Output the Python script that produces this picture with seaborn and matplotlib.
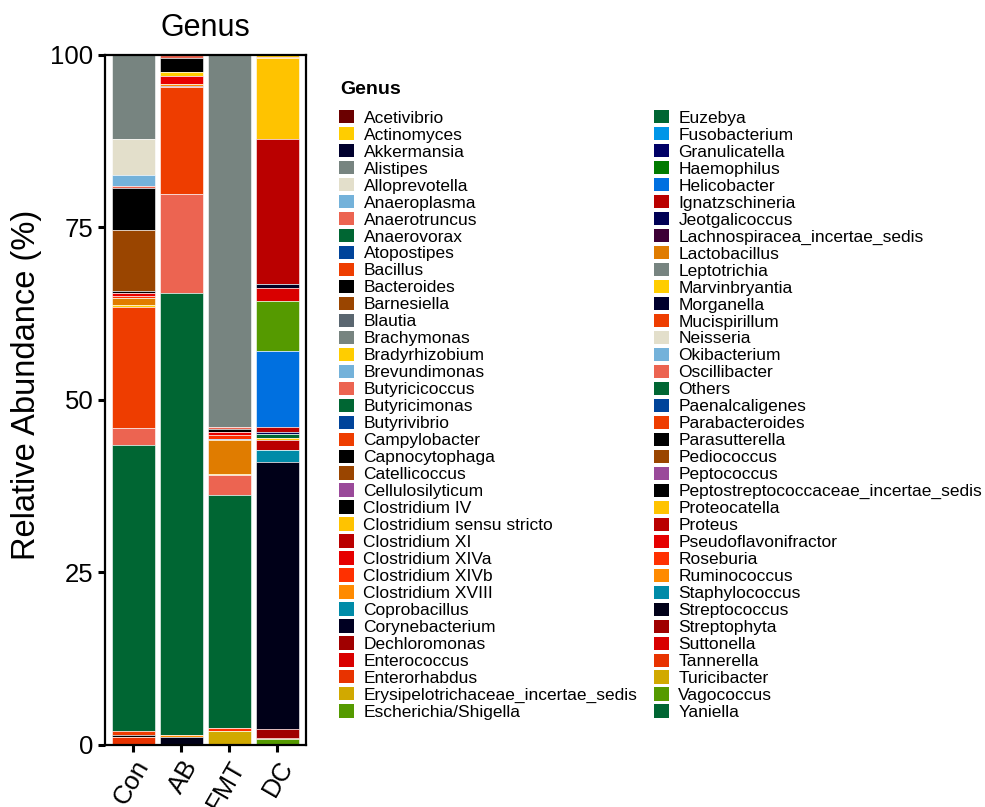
import matplotlib
matplotlib.use("Agg")
import matplotlib.pyplot as plt
from matplotlib.patches import Patch
import numpy as np
import pandas as pd
import seaborn as sns

# Samples on the x axis
samples = ["Con", "AB", "FMT", "DC"]

# Genus levels (legend order; the first level sits at the top of each stack)
genera = [
    "Acetivibrio", "Actinomyces", "Akkermansia", "Alistipes", "Alloprevotella",
    "Anaeroplasma", "Anaerotruncus", "Anaerovorax", "Atopostipes", "Bacillus",
    "Bacteroides", "Barnesiella", "Blautia", "Brachymonas", "Bradyrhizobium",
    "Brevundimonas", "Butyricicoccus", "Butyricimonas", "Butyrivibrio",
    "Campylobacter", "Capnocytophaga", "Catellicoccus", "Cellulosilyticum",
    "Clostridium IV", "Clostridium sensu stricto", "Clostridium XI",
    "Clostridium XIVa", "Clostridium XIVb", "Clostridium XVIII", "Coprobacillus",
    "Corynebacterium", "Dechloromonas", "Enterococcus", "Enterorhabdus",
    "Erysipelotrichaceae_incertae_sedis", "Escherichia/Shigella",
    "Euzebya", "Fusobacterium", "Granulicatella", "Haemophilus", "Helicobacter",
    "Ignatzschineria", "Jeotgalicoccus", "Lachnospiracea_incertae_sedis",
    "Lactobacillus", "Leptotrichia", "Marvinbryantia", "Morganella",
    "Mucispirillum", "Neisseria", "Okibacterium", "Oscillibacter", "Others",
    "Paenalcaligenes", "Parabacteroides", "Parasutterella", "Pediococcus",
    "Peptococcus", "Peptostreptococcaceae_incertae_sedis", "Proteocatella",
    "Proteus", "Pseudoflavonifractor", "Roseburia", "Ruminococcus",
    "Staphylococcus", "Streptococcus", "Streptophyta", "Suttonella",
    "Tannerella", "Turicibacter", "Vagococcus", "Yaniella",
]

genus_colors = [
    "#6B0000", "#FFCD00", "#00002E", "#778480", "#E3DFCB",
    "#74B2DA", "#EC6451", "#006633", "#00449A", "#EE3D00",
    "#000000", "#9A4500", "#5A6670", "#778480", "#FFCD00",
    "#74B2DA", "#EC6451", "#006633", "#00449A",
    "#EE3D00", "#000000", "#9A4500", "#9A4A9A",
    "#000000", "#FFC300", "#BA0000",
    "#E60000", "#FF3000", "#FF8A00", "#008BA8",
    "#000022", "#A00000", "#D90000", "#E83300",
    "#D1A900", "#559A00",
    "#006633", "#0096E8", "#000066", "#007A00", "#0070E0",
    "#BA0000", "#000055", "#3D0035",
    "#E07C00", "#778480", "#FFCD00", "#00002E",
    "#EE3D00", "#E3DFCB", "#74B2DA", "#EC6451", "#006633",
    "#00449A", "#EE3D00", "#000000", "#9A4500",
    "#9A4A9A", "#000000", "#FFC300",
    "#BA0000", "#E60000", "#FF3000", "#FF8A00",
    "#008BA8", "#000018", "#A00000", "#D90000",
    "#E83300", "#D1A900", "#559A00", "#006633",
]

# Relative abundance (%) per sample; genera not listed are 0
con = {
    "Alistipes": 12.2, "Alloprevotella": 5.2, "Anaeroplasma": 1.6,
    "Anaerotruncus": 0.3, "Bacteroides": 6.1, "Barnesiella": 8.8,
    "Clostridium IV": 0.35, "Clostridium XIVa": 0.4, "Clostridium XIVb": 0.3,
    "Lactobacillus": 1.05, "Marvinbryantia": 0.2, "Mucispirillum": 17.6,
    "Oscillibacter": 2.5, "Others": 41.4, "Parabacteroides": 0.55,
    "Parasutterella": 0.25, "Tannerella": 1.2,
}
ab = {
    "Anaerotruncus": 0.55, "Bacteroides": 2.05, "Bradyrhizobium": 0.45,
    "Clostridium XIVa": 1.2, "Clostridium XVIII": 0.3,
    "Lachnospiracea_incertae_sedis": 0.2, "Mucispirillum": 15.5,
    "Oscillibacter": 14.25, "Others": 64.0, "Ruminococcus": 0.35,
    "Streptococcus": 1.15,
}
fmt = {
    "Alistipes": 53.9, "Anaerotruncus": 0.4, "Bacteroides": 0.4,
    "Clostridium XIVa": 0.45, "Clostridium XIVb": 0.55, "Helicobacter": 0.15,
    "Lactobacillus": 4.9, "Marvinbryantia": 0.2, "Oscillibacter": 2.8,
    "Others": 33.8, "Roseburia": 0.4, "Turicibacter": 2.05,
}
dc = {
    "Actinomyces": 0.35, "Campylobacter": 0.2, "Clostridium sensu stricto": 11.65,
    "Clostridium XI": 21.1, "Corynebacterium": 0.45, "Enterococcus": 1.95,
    "Escherichia/Shigella": 7.2, "Helicobacter": 11.1, "Ignatzschineria": 0.7,
    "Jeotgalicoccus": 0.2, "Others": 0.6, "Proteocatella": 0.3, "Proteus": 1.45,
    "Staphylococcus": 1.7, "Streptococcus": 38.7, "Streptophyta": 1.35,
    "Suttonella": 0.15, "Vagococcus": 0.85,
}

sns.set_theme(style="ticks")
plt.rcParams["font.family"] = ["Liberation Sans", "DejaVu Sans"]
plt.rcParams["text.color"] = "black"
plt.rcParams["axes.labelcolor"] = "black"
plt.rcParams["xtick.color"] = "black"
plt.rcParams["ytick.color"] = "black"
plt.rcParams["axes.edgecolor"] = "black"

# Long table -> wide table, then the baseline of each genus is the sum of
# every genus listed after it
records = []
for sample, values in zip(samples, [con, ab, fmt, dc]):
    for g in genera:
        records.append((sample, g, values.get(g, 0.0)))
long_df = pd.DataFrame(records, columns=["Sample", "Genus", "Abundance"])
wide = long_df.pivot(index="Sample", columns="Genus", values="Abundance")
wide = wide.loc[samples, genera]
below = wide[genera[::-1]].cumsum(axis=1)[genera] - wide

palette = dict(zip(genera, genus_colors))

fig = plt.figure(figsize=(9.85, 8.07), dpi=100)
ax = fig.add_axes([104.5 / 985, 1 - 745 / 807, (306 - 104.5) / 985, (745 - 54.5) / 807])

for g in genera:
    heights = wide[g].to_numpy()
    if heights.sum() <= 0:
        continue
    sns.barplot(
        x=samples, y=heights, order=samples, ax=ax,
        color=palette[g], saturation=1, errorbar=None, width=0.9,
        bottom=below[g].to_numpy(), edgecolor="white", linewidth=0.4,
    )

ax.set_xlim(-0.6, 3.6)
ax.set_ylim(0, 100)
ax.set_yticks([0, 25, 50, 75, 100])
ax.set_yticklabels(["0", "25", "50", "75", "100"])
for side in ["left", "right", "top", "bottom"]:
    ax.spines[side].set_visible(True)
    ax.spines[side].set_linewidth(1.6)
    ax.spines[side].set_color("black")
ax.tick_params(axis="both", length=5, width=2.2, labelsize=18.5, pad=3, color="black")
ax.set_xlabel("")
ax.set_xticks(range(len(samples)))
ax.set_xticklabels(samples, rotation=60, ha="right", va="top", rotation_mode="anchor")

ax.set_title("Genus", fontsize=22, pad=13)
ax.set_ylabel("Relative Abundance (%)", fontsize=23.5)
ax.yaxis.set_label_coords(-0.31, 0.522)

# Legend: bold heading, then two columns of colour keys
fig.text(340 / 985, 1 - 90 / 807, "Genus", fontsize=14, fontweight="bold",
         ha="left", va="center")
handles = [Patch(facecolor=palette[g], edgecolor="none") for g in genera]
fig.legend(
    handles, genera, loc="upper left", bbox_to_anchor=(339 / 985, 1 - 110 / 807),
    ncol=2, frameon=False, fontsize=12.5,
    handlelength=0.86, handleheight=0.8, handletextpad=0.55,
    columnspacing=0.95, labelspacing=0.075, borderpad=0, borderaxespad=0,
)

fig.savefig("out.png", dpi=100)
